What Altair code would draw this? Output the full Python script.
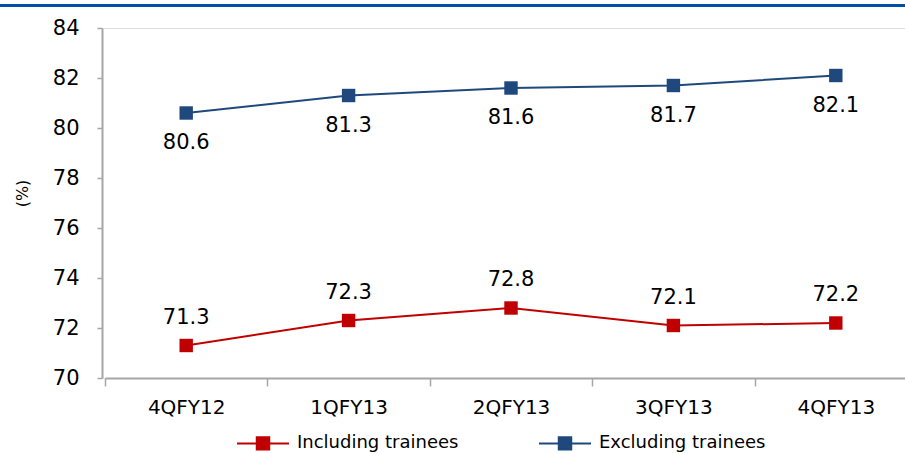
import altair as alt
import pandas as pd

quarters = ["4QFY12", "1QFY13", "2QFY13", "3QFY13", "4QFY13"]
including = [71.3, 72.3, 72.8, 72.1, 72.2]
excluding = [80.6, 81.3, 81.6, 81.7, 82.1]
series_names = ["Including trainees", "Excluding trainees"]
y_ticks = [70, 72, 74, 76, 78, 80, 82, 84]

RED = "#C00000"
BLUE = "#1F497D"
FONT = "DejaVu Sans"

rows = []
for q, v in zip(quarters, including):
    rows.append({"quarter": q, "value": v, "series": series_names[0]})
for q, v in zip(quarters, excluding):
    rows.append({"quarter": q, "value": v, "series": series_names[1]})
df = pd.DataFrame(rows)

W = 803
H = 350

x_enc = alt.X(
    "quarter:N",
    sort=quarters,
    scale=alt.Scale(domain=quarters, range=[3, 815], paddingInner=0, paddingOuter=0),
    axis=alt.Axis(
        title=None,
        labelAngle=0,
        labelFont=FONT,
        labelFontSize=20,
        labelColor="#000000",
        labelPadding=11,
        tickBand="extent",
        tickSize=8,
        tickColor="#A6A6A6",
        tickWidth=1.5,
        domainColor="#A6A6A6",
        domainWidth=2,
        grid=False,
    ),
)
y_enc = alt.Y(
    "value:Q",
    scale=alt.Scale(domain=[70, 84], nice=False, zero=False),
    axis=alt.Axis(
        title="(%)",
        titleFont=FONT,
        titleFontSize=16,
        titleFontWeight="normal",
        titleColor="#000000",
        titleX=-80,
        titleY=165,
        titleAngle=-90,
        titleAlign="center",
        titleBaseline="middle",
        values=y_ticks,
        labelFont=FONT,
        labelFontSize=21,
        labelColor="#000000",
        labelPadding=18,
        tickSize=5,
        tickColor="#A6A6A6",
        tickWidth=1.5,
        domainColor="#A6A6A6",
        domainWidth=2,
        grid=False,
    ),
)
color_scale = alt.Scale(domain=series_names, range=[RED, BLUE])

base = alt.Chart(df).encode(x=x_enc, y=y_enc)

legend = alt.Legend(
    title=None,
    orient="none",
    direction="horizontal",
    legendX=134,
    legendY=388,
    symbolType="M-1,0H1M-0.24,-0.24H0.24V0.24H-0.24Z",
    symbolSize=2704,
    symbolStrokeWidth=2,
    labelFont=FONT,
    labelFontSize=18,
    labelColor="#000000",
    labelOffset=7,
    labelLimit=400,
    columnPadding=76,
    padding=0,
)

line = base.mark_line(strokeWidth=2).encode(
    color=alt.Color("series:N", scale=color_scale, legend=legend)
)
pts = base.mark_point(shape="square", filled=True, size=180, opacity=1).encode(
    color=alt.Color("series:N", scale=color_scale, legend=legend)
)

lab_inc = base.transform_filter(alt.datum.series == series_names[0]).mark_text(
    font=FONT, fontSize=21, dy=-28, color="#000000"
).encode(text=alt.Text("value:Q", format=".1f"))
lab_exc = base.transform_filter(alt.datum.series == series_names[1]).mark_text(
    font=FONT, fontSize=21, dy=30, color="#000000"
).encode(text=alt.Text("value:Q", format=".1f"))

topbar = alt.Chart(pd.DataFrame({"a": [0]})).mark_rule(
    color="#0050A8", strokeWidth=3
).encode(x=alt.value(-102), x2=alt.value(W), y=alt.value(-22.5))

chart = (
    alt.layer(topbar, line, pts, lab_inc, lab_exc)
    .properties(
        width=W,
        height=H,
        autosize=alt.AutoSizeParams(type="none"),
        padding={"left": 102, "top": 28, "right": 0, "bottom": 75},
    )
    .configure_view(stroke=None)
    .configure(background="#FFFFFF")
)

chart.save("out.html", embed_options={"renderer": "svg", "actions": False})
